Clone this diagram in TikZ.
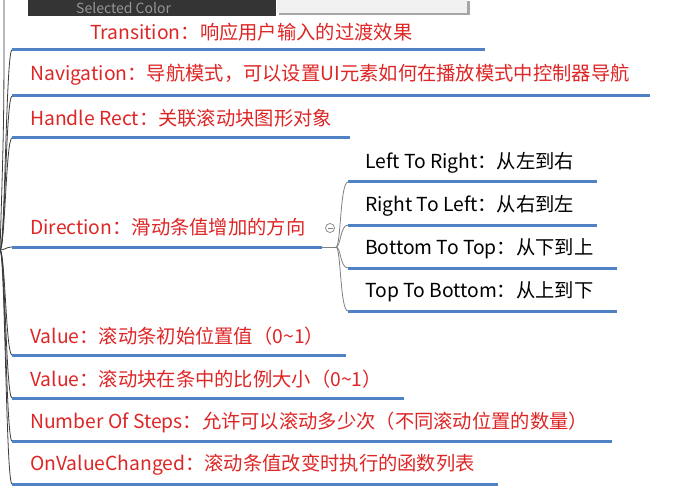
\documentclass[tikz,border=0pt]{standalone}
\usepackage{fontspec}
\usetikzlibrary{calc}
\setmainfont{Noto Sans CJK SC}
\definecolor{ulblue}{RGB}{79,129,196}
\definecolor{txtred}{RGB}{222,38,38}
\definecolor{trunkgray}{RGB}{60,60,60}
\definecolor{darkpanel}{RGB}{52,52,52}
\definecolor{lightpanel}{RGB}{240,240,240}
\begin{document}
\begin{tikzpicture}[x=1pt,y=-1pt,
  redtxt/.style={anchor=west,inner sep=0pt,text=txtred,font=\fontsize{19.3}{22}\selectfont},
  blktxt/.style={anchor=west,inner sep=0pt,text=black,font=\fontsize{19.3}{22}\selectfont},
  uline/.style={draw=ulblue,line width=3pt},
  trunk/.style={draw=trunkgray,line width=0.8pt},
  fork/.style={draw=gray,line width=0.8pt}]
\useasboundingbox (0,0) rectangle (692,494);
\fill[white] (0,0) rectangle (692,494);

% top screenshot fragment
\fill[darkpanel] (28,0) rectangle (276,16);
\node[anchor=west,inner sep=0pt,text={rgb,255:red,150;green,150;blue,150},font=\fontsize{14}{16}\selectfont] (selcol) at (76,8.5) {Selected Color};
\fill[gray!70] (279,1) rectangle (470,15);
\fill[lightpanel] (277,0) rectangle (467,13);

% root
\coordinate (root) at (0,250);
\coordinate (topend) at (4,-2);
\draw[trunk] (root) .. controls (4,120) .. (topend);

% main branches: underline starts/ends
\foreach \n/\y/\xe in {tr/50/485, nav/96/650, hr/138/350, dir/247/322, v1/355/346, v2/398/404, ns/441/612, ov/484/498}{
  \coordinate (\n s) at (12,\y);
  \coordinate (\n e) at (\xe,\y);
}
\foreach \n in {tr,nav,hr,dir,v1,v2,ns,ov}{
  \draw[trunk] (root) .. controls ($(root)+(5,0)$) and ($(\n s)+(-6,0)$) .. (\n s);
}
\foreach \n in {tr,nav,hr,dir,v1,v2,ns,ov}{
  \draw[uline] (\n s) -- (\n e);
}

\node[redtxt] (trt) at (90,32) {Transition：响应用户输入的过渡效果};
\node[redtxt] (navt) at (30,75) {Navigation：导航模式，可以设置UI元素如何在播放模式中控制器导航};
\node[redtxt] (hrt) at (30,118) {Handle Rect：关联滚动块图形对象};
\node[redtxt] (dirt) at (30,227) {Direction：滑动条值增加的方向};
\node[redtxt] (v1t) at (30,336) {Value：滚动条初始位置值（0\char"007E 1）};
\node[redtxt] (v2t) at (30,379) {Value：滚动块在条中的比例大小（0\char"007E 1）};
\node[redtxt] (nst) at (30,422) {Number Of Steps：允许可以滚动多少次（不同滚动位置的数量）};
\node[redtxt] (ovt) at (30,465) {OnValueChanged：滚动条值改变时执行的函数列表};

% direction children
\coordinate (dfork) at (336,247);
\draw[fork] (dire) -- (dfork);
\foreach \n/\y/\xe in {lr/182/597, rl/225/597, bt/268/617, tb/311/617}{
  \coordinate (\n s) at (348,\y);
  \coordinate (\n e) at (\xe,\y);
  \draw[fork] (dfork) .. controls (341,247) and (340,\y) .. (\n s);
  \draw[uline] (\n s) -- (\n e);
}
\node[blktxt] (lrt) at (365,163) {Left To Right：从左到右};
\node[blktxt] (rlt) at (365,206) {Right To Left：从右到左};
\node[blktxt] (btt) at (365,249) {Bottom To Top：从下到上};
\node[blktxt] (tbt) at (365,292) {Top To Bottom：从上到下};

% collapse marker
\node[circle,draw=gray,fill=white,line width=0.7pt,minimum size=9pt,inner sep=0pt] (collapse) at (330,228) {};
\draw[gray,line width=0.7pt] ($(collapse)+(-2.5,0)$) -- ($(collapse)+(2.5,0)$);
\end{tikzpicture}
\end{document}
